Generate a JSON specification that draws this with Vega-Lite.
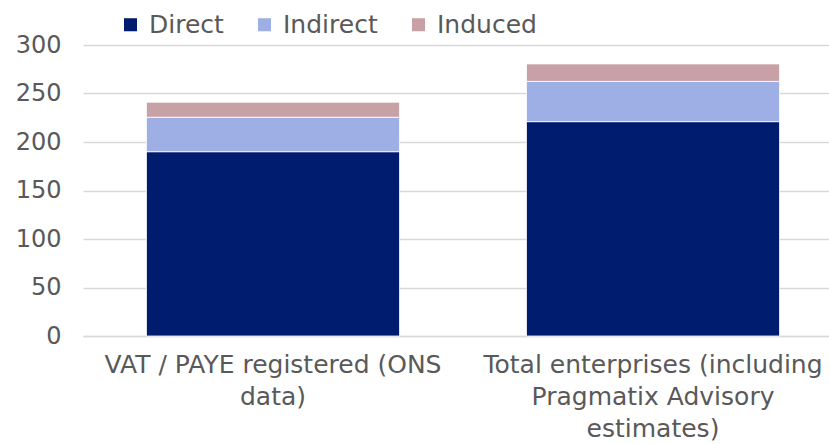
{
  "$schema": "https://vega.github.io/schema/vega-lite/v6.json",
  "width": 746,
  "height": 291,
  "autosize": "none",
  "padding": {"left": 83, "top": 45, "right": 0, "bottom": 108},
  "background": "#ffffff",
  "config": {
    "view": {"stroke": null},
    "font": "DejaVu Sans",
    "axis": {"labelFont": "DejaVu Sans", "labelColor": "#595959"},
    "legend": {"labelFont": "DejaVu Sans", "labelColor": "#595959"}
  },
  "data": {
    "values": [
      {"category": "VAT / PAYE registered (ONS|data)", "type": "Direct", "o": 1, "value": 190},
      {"category": "VAT / PAYE registered (ONS|data)", "type": "Indirect", "o": 2, "value": 35.5},
      {"category": "VAT / PAYE registered (ONS|data)", "type": "Induced", "o": 3, "value": 15.5},
      {"category": "Total enterprises (including|Pragmatix Advisory|estimates)", "type": "Direct", "o": 1, "value": 221},
      {"category": "Total enterprises (including|Pragmatix Advisory|estimates)", "type": "Indirect", "o": 2, "value": 41.5},
      {"category": "Total enterprises (including|Pragmatix Advisory|estimates)", "type": "Induced", "o": 3, "value": 18}
    ]
  },
  "mark": {"type": "bar", "stroke": "#ffffff", "strokeWidth": 0.8},
  "encoding": {
    "x": {
      "field": "category",
      "type": "nominal",
      "sort": null,
      "scale": {"range": [0, 760], "paddingInner": 0.334, "paddingOuter": 0.167},
      "axis": {
        "title": null,
        "labelAngle": 0,
        "labelExpr": "split(datum.label, '|')",
        "labelFontSize": 25,
        "labelLineHeight": 32,
        "labelPadding": 16,
        "ticks": false,
        "domainColor": "#d9d9d9",
        "domainWidth": 1.5,
        "labelLimit": 0
      }
    },
    "y": {
      "field": "value",
      "type": "quantitative",
      "stack": "zero",
      "scale": {"domain": [0, 300]},
      "axis": {
        "title": null,
        "values": [0, 50, 100, 150, 200, 250, 300],
        "labelFontSize": 24,
        "labelPadding": 22,
        "ticks": false,
        "domain": false,
        "gridColor": "#d9d9d9",
        "gridWidth": 1.5
      }
    },
    "color": {
      "field": "type",
      "type": "nominal",
      "scale": {"domain": ["Direct", "Indirect", "Induced"], "range": ["#001c6e", "#9eafe6", "#c7a1a5"]},
      "legend": {
        "title": null,
        "orient": "none",
        "direction": "horizontal",
        "legendX": 35,
        "legendY": -33,
        "symbolType": "square",
        "symbolSize": 170,
        "symbolStrokeWidth": 0,
        "labelFontSize": 25,
        "labelOffset": 6,
        "columnPadding": 28
      }
    },
    "order": {"field": "o", "type": "quantitative"}
  }
}
